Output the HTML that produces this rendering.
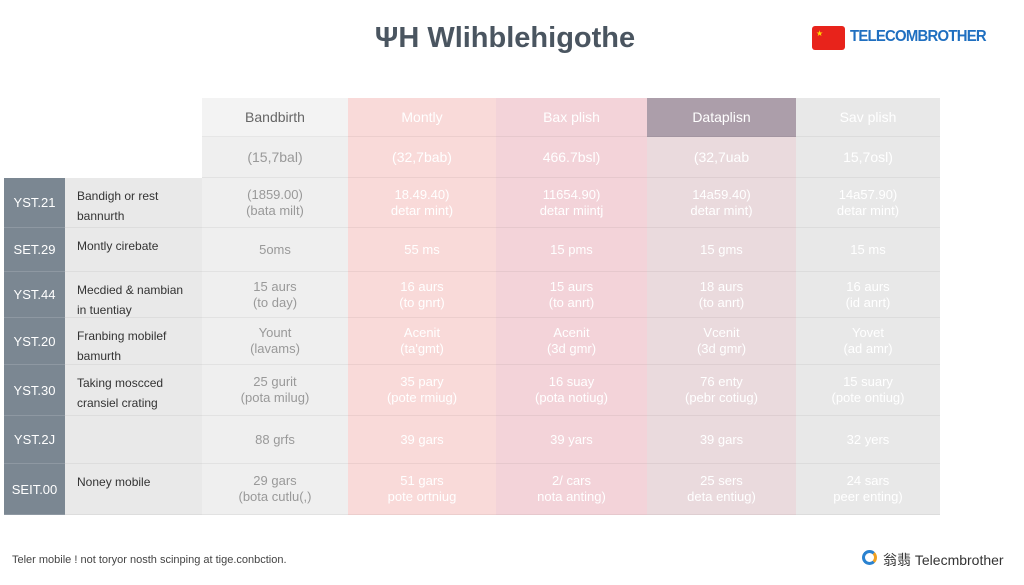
<!DOCTYPE html>
<html><head><meta charset="utf-8"><style>
body{margin:0;width:1024px;height:585px;background:#fff;position:relative;overflow:hidden;font-family:"Liberation Sans","DejaVu Sans",sans-serif;}
.a{position:absolute;box-sizing:border-box;}
.cell{position:absolute;box-sizing:border-box;display:flex;flex-direction:column;align-items:center;justify-content:center;text-align:center;font-size:13px;line-height:16px;border-bottom:1px solid rgba(0,0,0,0.05);}
.lab{position:absolute;box-sizing:border-box;padding:8px 0 0 12px;font-size:12px;line-height:20px;color:#333;background:#e9e9e9;border-bottom:1px solid rgba(0,0,0,0.05);}
.id{position:absolute;box-sizing:border-box;background:#7b8792;color:#fff;font-size:13px;display:flex;align-items:center;justify-content:center;border-bottom:1px solid rgba(255,255,255,0.15);}
</style></head><body>
<div class="a" style="left:0;top:22px;width:1010px;text-align:center;font-size:29px;font-weight:bold;color:#4a5560;">ΨH Wlihblehigothe</div>
<div class="a" style="left:812px;top:26px;width:33px;height:24px;background:#e8231b;border-radius:3px;"></div>
<div class="a" style="left:816px;top:29px;color:#ffde00;font-size:8px;">★</div>
<div class="a" style="left:850px;top:28px;font-size:16px;font-weight:bold;color:#1f6fc0;letter-spacing:-0.8px;transform:scaleX(0.93);transform-origin:left;">TELECOMBROTHER</div>
<div id="t"></div>
<div class="a" style="left:12px;top:554px;font-size:11px;color:#444;">Teler mobile ! not toryor nosth scinping at tige.conbction.</div>
<div class="a" style="left:862px;top:550px;width:15px;height:15px;border-radius:50%;border:3px solid #2a82d0;border-right-color:#f0a020;"></div>
<div class="a" style="left:883px;top:550px;font-size:14px;color:#333;font-family:'Liberation Sans','Noto Sans CJK SC',sans-serif;">翁翡 Telecmbrother</div>
<script>
var cx=[202,348,496,647,796,940];
var bg=['#efefef','#f9dad9','#f3d3d9','#eadadd','#e8e8e8'];
var hbg=['#f3f3f3','#f9dad9','#f3d3d9','#ac9eaa','#e8e8e8'];
var tc=['#999','#fff','#fff','#fff','#fff'];
var hd=['Bandbirth','Montly','Bax plish','Dataplisn','Sav plish'];
var sub=['(15,7bal)','(32,7bab)','466.7bsl)','(32,7uab','15,7osl)'];
var ry=[178,228,272,318,365,416,464,515];
var ids=['YST.21','SET.29','YST.44','YST.20','YST.30','YST.2J','SEIT.00'];
var labs=['Bandigh or rest<br>bannurth','Montly cirebate','Mecdied &amp; nambian<br>in tuentiay','Franbing mobilef<br>bamurth','Taking moscced<br>cransiel crating','','Noney mobile'];
var d=[
['(1859.00)<br>(bata milt)','18.49.40)<br>detar mint)','11654.90)<br>detar miintj','14a59.40)<br>detar mint)','14a57.90)<br>detar mint)'],
['5oms','55 ms','15 pms','15 gms','15 ms'],
['15 aurs<br>(to day)','16 aurs<br>(to gnrt)','15 aurs<br>(to anrt)','18 aurs<br>(to anrt)','16 aurs<br>(id anrt)'],
['Yount<br>(lavams)','Acenit<br>(ta\'gmt)','Acenit<br>(3d gmr)','Vcenit<br>(3d gmr)','Yovet<br>(ad amr)'],
['25 gurit<br>(pota milug)','35 pary<br>(pote rmiug)','16 suay<br>(pota notiug)','76 enty<br>(pebr cotiug)','15 suary<br>(pote ontiug)'],
['88 grfs','39 gars','39 yars','39 gars','32 yers'],
['29 gars<br>(bota cutlu(,)','51 gars<br>pote ortniug','2/ cars<br>nota anting)','25 sers<br>deta entiug)','24 sars<br>peer enting)']];
var h='';
for(var c=0;c<5;c++){var l=cx[c],w=cx[c+1]-l;
h+='<div class="cell" style="left:'+l+'px;top:98px;width:'+w+'px;height:39px;background:'+hbg[c]+';color:'+(c==0?'#666':'#fff')+';font-size:14px;">'+hd[c]+'</div>';
h+='<div class="cell" style="left:'+l+'px;top:137px;width:'+w+'px;height:41px;background:'+bg[c]+';color:'+tc[c]+';font-size:14px;">'+sub[c]+'</div>';
for(var r=0;r<7;r++)h+='<div class="cell" style="left:'+l+'px;top:'+ry[r]+'px;width:'+w+'px;height:'+(ry[r+1]-ry[r])+'px;background:'+bg[c]+';color:'+tc[c]+';">'+d[r][c]+'</div>';}
for(var r=0;r<7;r++){var hh=ry[r+1]-ry[r];
h+='<div class="id" style="left:4px;top:'+ry[r]+'px;width:61px;height:'+hh+'px;">'+ids[r]+'</div>';
h+='<div class="lab" style="left:65px;top:'+ry[r]+'px;width:137px;height:'+hh+'px;">'+labs[r]+'</div>';}
document.getElementById('t').innerHTML=h;
</script>
</body></html>
